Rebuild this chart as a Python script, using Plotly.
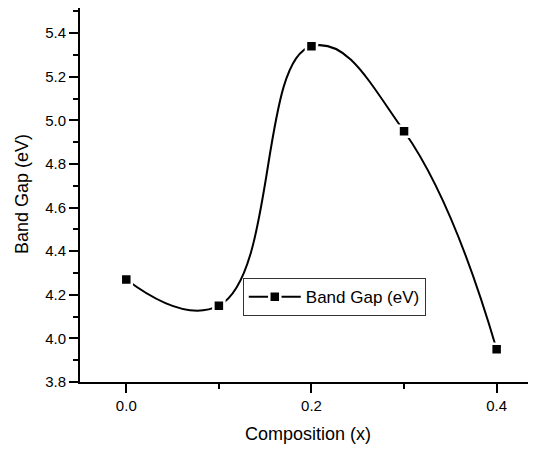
import plotly.graph_objects as go

# ---- data ----
composition = [0.0, 0.1, 0.2, 0.3, 0.4]
band_gap = [4.27, 4.15, 5.34, 4.95, 3.95]
series_name = "Band Gap (eV)"
x_title = "Composition (x)"
y_title = "Band Gap (eV)"

FONT = "Arial, 'Liberation Sans', Helvetica, sans-serif"

fig = go.Figure()
fig.add_trace(go.Scatter(
    x=composition, y=band_gap, name=series_name,
    mode="lines+markers",
    line=dict(color="black", width=2, shape="spline", smoothing=1.3),
    marker=dict(symbol="square", size=11, color="black",
                line=dict(color="white", width=2.5)),
))

# page body adds an 8px offset, so the figure is sized/margined to compensate
fig.update_layout(
    width=528, height=442,
    margin=dict(l=72, r=0, t=0, b=68, autoexpand=False),
    paper_bgcolor="white", plot_bgcolor="white",
    font=dict(family=FONT, color="black", size=15),
    showlegend=True,
    legend=dict(x=0.357, y=0.227, xanchor="left", yanchor="middle",
                bordercolor="#333", borderwidth=1, bgcolor="white",
                font=dict(size=17), itemwidth=52),
    annotations=[dict(
        text=y_title, textangle=-90, showarrow=False,
        xref="paper", yref="paper", x=-0.127, y=0.503,
        xanchor="center", yanchor="middle", font=dict(size=18),
    )],
)

fig.update_xaxes(
    range=[-0.05, 0.4425], showgrid=False, zeroline=False,
    showline=True, linecolor="black", linewidth=2, mirror=True,
    ticks="outside", ticklen=9, tickwidth=2, tickcolor="black",
    tick0=0, dtick=0.2, tickformat=".1f",
    minor=dict(ticks="outside", ticklen=5, tickwidth=2, tickcolor="black", dtick=0.1, tick0=0),
    title=dict(text=x_title, font=dict(size=18), standoff=14),
)
fig.update_yaxes(
    range=[3.8, 5.515], showgrid=False, zeroline=False,
    showline=True, linecolor="black", linewidth=2, mirror=False,
    ticks="outside", ticklen=9, tickwidth=2, tickcolor="black",
    tick0=3.8, dtick=0.2, tickformat=".1f",
    minor=dict(ticks="outside", ticklen=5, tickwidth=2, tickcolor="black", dtick=0.1, tick0=3.8),
)

fig.write_html("out.html")
